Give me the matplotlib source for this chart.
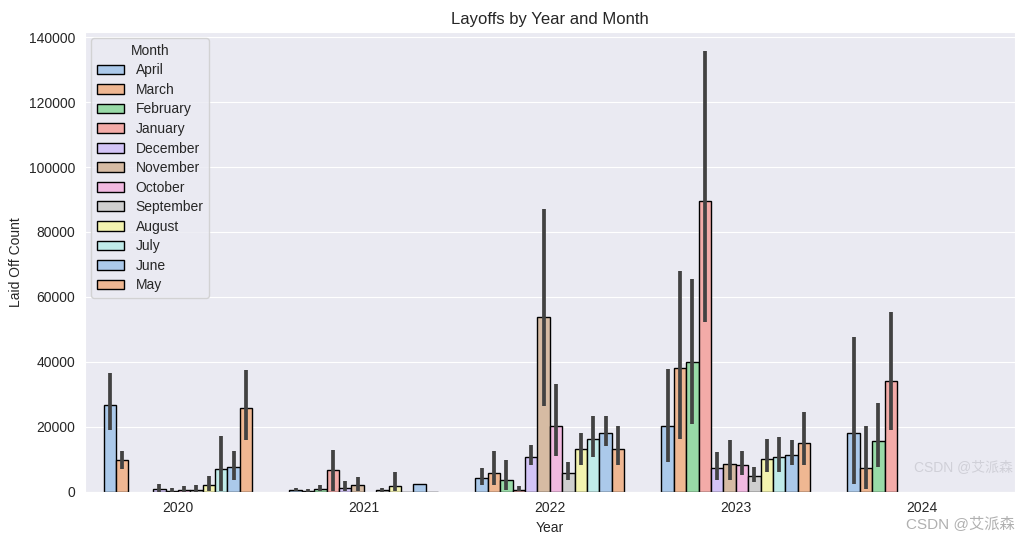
import numpy as np
import matplotlib
matplotlib.use('Agg')
import matplotlib.pyplot as plt
from matplotlib.patches import Patch
import seaborn as sns

nan = np.nan

# Datos (media y intervalo de confianza por mes)
years = ['2020', '2021', '2022', '2023', '2024']
months = ['April', 'March', 'February', 'January', 'December', 'November',
          'October', 'September', 'August', 'July', 'June', 'May']

mean_vals = [
    [26700, 400, 4200, 20300, 18050],    # April
    [9750, 200, 5740, 38050, 7290],      # March
    [nan, 830, 3490, 40000, 15480],      # February
    [nan, 6770, 410, 89600, 34150],      # January
    [710, 1130, 10670, 7290, nan],       # December
    [200, 2150, 53750, 8620, nan],       # November
    [510, nan, 20400, 8310, nan],        # October
    [510, 400, 5740, 4920, nan],         # September
    [2050, 1740, 13130, 10050, nan],     # August
    [6970, 80, 16200, 10670, nan],       # July
    [7690, 2360, 18050, 11280, nan],     # June
    [25750, 0, 13130, 14980, nan],       # May
]
ci_low = [
    [18900, 100, 2150, 9140, 2460],
    [7080, 0, 1950, 16300, 920],
    [nan, 100, 600, 20900, 7480],
    [nan, 300, 100, 52400, 18870],
    [0, 100, 8100, 3690, nan],
    [0, 200, 26460, 3490, nan],
    [50, nan, 10900, 5020, nan],
    [50, 0, 3690, 2870, nan],
    [200, 100, 8100, 5950, nan],
    [100, 80, 10670, 6150, nan],
    [3700, 2360, 14150, 8310, nan],
    [15800, 0, 8100, 8310, nan],
]
ci_high = [
    [36500, 1130, 7300, 37950, 47800],
    [12700, 830, 12700, 68100, 20400],
    [nan, 2150, 9640, 65400, 27480],
    [nan, 12900, 1640, 135800, 55400],
    [2250, 3170, 14250, 12100, nan],
    [1030, 4510, 87200, 15800, nan],
    [1640, nan, 33200, 12400, nan],
    [1950, 1130, 9020, 7480, nan],
    [4710, 6050, 18250, 16300, nan],
    [17300, 80, 23200, 16800, nan],
    [12700, 2360, 23200, 15800, nan],
    [37600, 0, 20100, 24700, nan],
]

sns.set_style('darkgrid')
plt.rcParams['font.family'] = ['Liberation Sans', 'Noto Sans CJK SC', 'DejaVu Sans']

colores = [sns.desaturate(c, 0.75) for c in sns.color_palette('pastel', 12)]

fig = plt.figure(figsize=(10.23, 5.41), dpi=100)
ax = fig.add_axes([0.083, 0.091, 0.909, 0.850])

n = len(months)
ancho = 0.8 / n
x = np.arange(len(years))

for i, mes in enumerate(months):
    pos = x - 0.4 + ancho * (i + 0.5)
    m = np.array(mean_vals[i], dtype=float)
    lo = np.array(ci_low[i], dtype=float)
    hi = np.array(ci_high[i], dtype=float)
    ok = ~np.isnan(m)
    ax.bar(pos[ok], m[ok], width=ancho, color=colores[i], edgecolor='black', linewidth=1, zorder=2)
    # barras de error (intervalo de confianza)
    con_err = ok & (hi > lo)
    ax.vlines(pos[con_err], lo[con_err], hi[con_err], color='.26', linewidth=2.7, zorder=3)

ax.set_xlim(-0.5, len(years) - 0.5)
ax.set_ylim(0, 141600)
ax.set_xticks(x)
ax.set_xticklabels(years)
ax.set_yticks(np.arange(0, 140001, 20000))
ax.tick_params(labelsize=10)
ax.grid(False, axis='x')

ax.set_title('Layoffs by Year and Month', fontsize=12)
ax.set_xlabel('Year', fontsize=10)
ax.set_ylabel('Laid Off Count', fontsize=10)

handles = [Patch(facecolor=colores[i], edgecolor='black', label=mes) for i, mes in enumerate(months)]
ax.legend(handles=handles, title='Month', loc='upper left', fontsize=10, title_fontsize=10,
          labelspacing=0.4, borderaxespad=0.45)

# marca de agua
fig.text(0.992, 0.032, 'CSDN @艾派森', ha='right', va='center', fontsize=11, color='#b0b0b0')
fig.text(0.99, 0.137, 'CSDN @艾派森', ha='right', va='center', fontsize=10, color='#d0d0d8')

fig.savefig('out.png', dpi=100)
